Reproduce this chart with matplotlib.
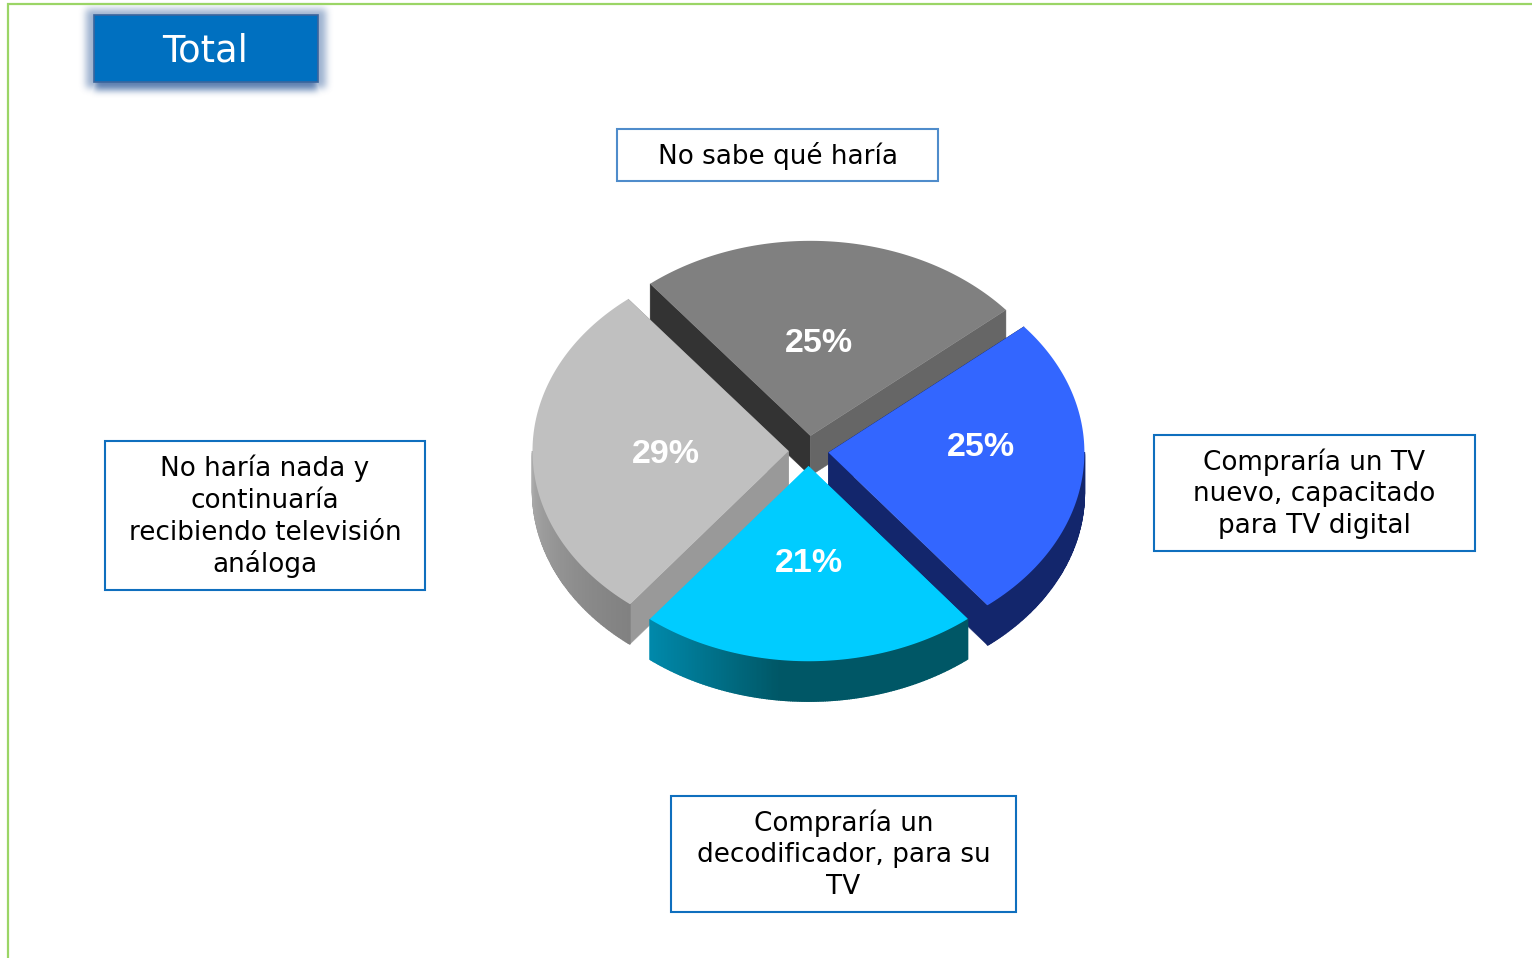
import numpy as np
import matplotlib
matplotlib.use("Agg")
import matplotlib.pyplot as plt
from matplotlib.patches import Polygon, Rectangle

# datos
titulo = "Total"
categorias = [
    ["Compraría un TV", "nuevo, capacitado", "para TV digital"],
    ["Compraría un", "decodificador, para su", "TV"],
    ["No haría nada y", "continuaría", "recibiendo televisión", "análoga"],
    ["No sabe qué haría"],
]
valores = [25.49, 21.3, 28.6, 24.6]

# estilo de cada porcion, mismo orden que valores
color_tapa = ["#3366FF", "#00CCFF", "#C0C0C0", "#808080"]
color_corte = ["#13266C", "#00CCFF", "#999999", "#666666"]
muro_izq = ["#13266C", "#0089AB", "#ABABAB", "#666666"]
muro_der = ["#13266C", "#005766", "#828282", "#666666"]

caja_cat = [(1154, 435, 1475, 551), (671, 796, 1016, 912), (105, 441, 425, 590), (617, 129, 938, 181)]
borde_cat = ["#0F6FBE", "#0F6FBE", "#0F6FBE", "#4F8CCB"]
pos_pct = [(981, 447), (809, 563), (666, 454), (819, 344)]

cx, cy = 808.5, 451
rx, ry = 256, 195
explode = 20
alto = 40
inicio = 40.2

fig = plt.figure(figsize=(15.32, 9.58), dpi=100)
ax = fig.add_axes([0, 0, 1, 1])
ax.set_xlim(0, 1532)
ax.set_ylim(958, 0)
ax.axis("off")

# marco verde
ax.plot([8, 8, 1532], [958, 3.5, 3.5], color="#9BD566", lw=1.6, solid_capstyle="butt", solid_joinstyle="miter")

# sombra difusa del boton Total
sx0, sy0, sx1, sy1 = 60, 0, 355, 125
m = np.zeros((sy1 - sy0, sx1 - sx0))
m[24 - sy0:90 - sy0, 94 - sx0:318 - sx0] = 1
glow = np.zeros_like(m)
glow[9 - sy0:88 - sy0, 86 - sx0:326 - sx0] = 1
k = np.ones(7) / 7
for _ in range(3):
    m = np.apply_along_axis(lambda f: np.convolve(f, k, mode="same"), 0, m)
    m = np.apply_along_axis(lambda f: np.convolve(f, k, mode="same"), 1, m)
    glow = np.apply_along_axis(lambda f: np.convolve(f, k, mode="same"), 0, glow)
    glow = np.apply_along_axis(lambda f: np.convolve(f, k, mode="same"), 1, glow)
rgba = np.zeros(m.shape + (4,))
rgba[..., :3] = matplotlib.colors.to_rgb("#5C7FB0")
rgba[..., 3] = np.clip(np.maximum(m * 1.0, glow * 0.6), 0, 1)
ax.imshow(rgba, extent=(sx0, sx1, sy1, sy0), aspect="auto", zorder=1, interpolation="bilinear")
ax.set_xlim(0, 1532)
ax.set_ylim(958, 0)
ax.add_patch(Rectangle((94, 15), 224, 67, fc="#0070C0", ec="#3B659C", lw=1.2, zorder=2))
ax.text(205.5, 51, titulo, color="white", fontsize=26.5, ha="center", va="center", family="DejaVu Sans", zorder=3)


def punto(x0, y0, ang, z=0):
    a = np.radians(ang)
    return x0 + rx * np.cos(a), y0 - ry * np.sin(a) + z


# angulos de las porciones, en sentido horario
fracs = np.array(valores) / sum(valores) * 360
fin = inicio - np.concatenate(([0], np.cumsum(fracs)))
porciones = []
for i in range(len(valores)):
    a0, a1 = fin[i], fin[i + 1]
    mid = np.radians((a0 + a1) / 2)
    x0 = cx + explode * np.cos(mid)
    y0 = cy - explode * ry / rx * np.sin(mid)
    porciones.append((i, a0, a1, x0, y0))

# de atras hacia adelante
for i, a0, a1, x0, y0 in [porciones[j] for j in (3, 2, 0, 1)]:
    # caras de corte
    for ang, col in ((a0, color_corte[i]), (a1, color_corte[i])):
        px, py = punto(x0, y0, ang)
        if i == 3 and ang == a0:
            col = "#333333"
        ax.add_patch(Polygon([(x0, y0), (px, py), (px, py + alto), (x0, y0 + alto)], fc=col, ec=col, lw=0.3))

    # muro exterior con degradado
    angs = np.linspace(a0, a1, 200)
    ci = np.array(matplotlib.colors.to_rgb(muro_izq[i]))
    cd = np.array(matplotlib.colors.to_rgb(muro_der[i]))
    xs, ys = punto(x0, y0, angs)
    for k2 in range(len(angs) - 1):
        if np.sin(np.radians((angs[k2] + angs[k2 + 1]) / 2)) > 0:
            continue
        t = 0
        if i == 1:
            t = min((xs[k2] - xs.min()) / 130, 1)
        elif i == 2:
            t = max(0, (ys[k2] - y0) / 150)
        c = ci + (cd - ci) * t
        ax.add_patch(Polygon([(xs[k2], ys[k2]), (xs[k2 + 1], ys[k2 + 1]), (xs[k2 + 1], ys[k2 + 1] + alto), (xs[k2], ys[k2] + alto)],
                             fc=c, ec=c, lw=1))

    # tapa
    xs, ys = punto(x0, y0, np.linspace(a0, a1, 120))
    ax.add_patch(Polygon([(x0, y0)] + list(zip(xs, ys)), fc=color_tapa[i], ec="none"))

# porcentajes
for v, (x, y) in zip(valores, pos_pct):
    ax.text(x, y, f"{round(v)}%", color="white", fontsize=24.5, fontweight="bold", ha="center", va="center", family="Liberation Sans")

# cajas de categorias
for lineas, (x0, y0, x1, y1), borde in zip(categorias, caja_cat, borde_cat):
    ax.add_patch(Rectangle((x0, y0), x1 - x0, y1 - y0, fc="white", ec=borde, lw=1.5))
    ym = (y0 + y1) / 2 - (len(lineas) - 1) * 16
    for n, linea in enumerate(lineas):
        ax.text((x0 + x1) / 2, ym + n * 32 + 1, linea, color="black", fontsize=18.9, ha="center", va="center", family="DejaVu Sans")

fig.savefig("out.png", dpi=100)
